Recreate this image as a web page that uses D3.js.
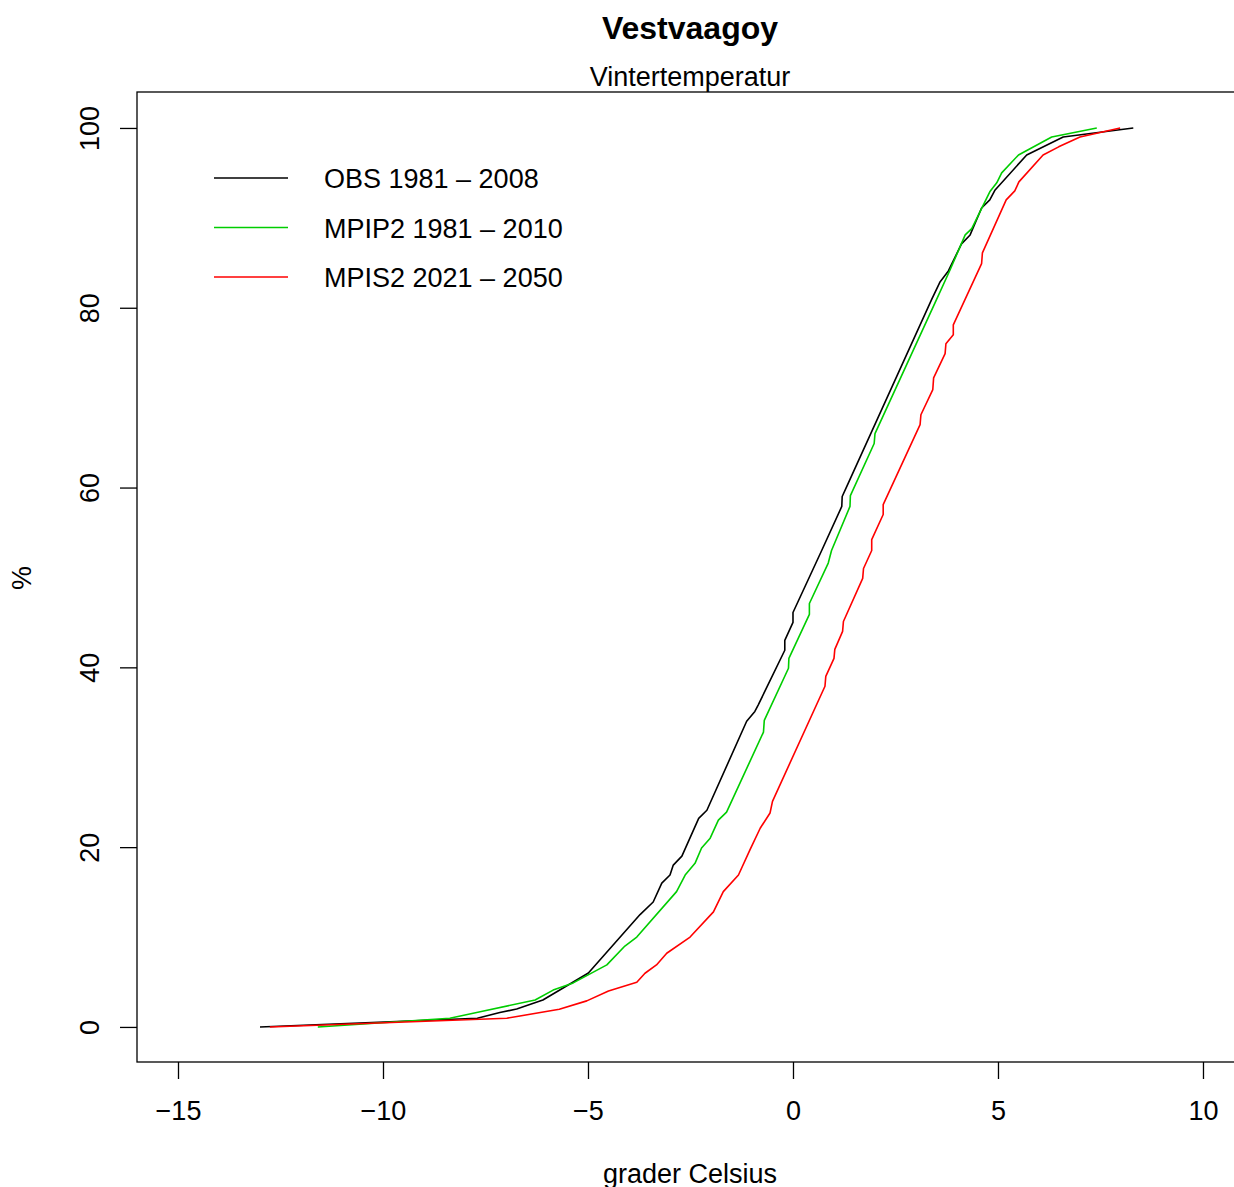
<!DOCTYPE html>
<html>
<head>
<meta charset="utf-8">
<script src="https://cdn.jsdelivr.net/npm/d3@7"></script>
<style>
  body { margin: 0; background: #fff; }
  text { font-family: "Liberation Sans", Arial, Helvetica, sans-serif; }
</style>
</head>
<body>
<div id="chart"></div>
<script>
// valeurs : temperature (grader Celsius) et % cumule
var obsTemp = [-13.0, -7.7, -7.15, -6.74, -6.1, -4.99, -3.73, -3.41, -3.2, -3.0, -2.92, -2.71, -2.3, -2.1,
  -1.13, -0.93, -0.85, -0.2, -0.2, 0.0, 0.0, 0.7, 1.19, 1.2, 1.31, 3.38, 3.59, 3.79, 4.11, 4.32, 4.6,
  4.8, 4.93, 5.7, 6.59, 8.3];
var obsPct = [0, 0.97, 1.6, 2.0, 3.0, 6.0, 12.5, 13.9, 16.0, 16.9, 18.0, 19.0, 23.2, 24.1,
  34.0, 35.1, 35.8, 41.9, 43.0, 45.0, 46.1, 53.0, 57.9, 59.0, 60.1, 80.9, 82.9, 84.1, 87.1, 88.1, 91.1,
  92.0, 93.1, 97.0, 99.0, 100];

var mpipTemp = [-11.59, -8.37, -7.63, -6.29, -5.85, -5.36, -4.54, -4.1, -3.81, -2.84, -2.63, -2.39, -2.23,
  -2.02, -1.82, -1.62, -0.72, -0.7, -0.11, -0.1, 0.4, 0.4, 0.86, 0.94, 1.39, 1.4, 1.98, 2.0, 3.5, 3.83,
  4.2, 4.36, 4.8, 4.97, 5.09, 5.5, 6.31, 7.41];
var mpipPct = [0, 0.97, 1.7, 3.0, 4.1, 4.9, 6.9, 9.0, 10.0, 15.05, 16.9, 18.2, 19.9,
  21.0, 23.0, 23.9, 32.8, 34.1, 39.9, 41.0, 45.9, 47.1, 51.6, 53.0, 57.9, 59.1, 64.9, 66.0, 80.9, 84.2,
  88.1, 88.8, 92.9, 93.9, 95.0, 97.0, 99.0, 100];

var mpisTemp = [-12.76, -6.98, -5.7, -5.03, -4.5, -3.81, -3.61, -3.33, -3.08, -2.51, -1.94, -1.7, -1.33,
  -1.05, -0.8, -0.56, -0.5, 0.78, 0.8, 1.0, 1.02, 1.21, 1.23, 1.7, 1.72, 1.92, 1.92, 2.2, 2.2, 3.1, 3.12,
  3.41, 3.43, 3.71, 3.73, 3.91, 3.91, 4.6, 4.62, 5.2, 5.41, 5.51, 6.1, 6.48, 7.0, 7.98];
var mpisPct = [0, 0.97, 1.97, 2.9, 4.0, 4.97, 5.97, 6.9, 8.2, 10.0, 12.8, 15.05, 16.9,
  19.7, 22.1, 23.8, 25.1, 37.9, 39.0, 41.0, 42.0, 44.0, 45.1, 49.9, 51.0, 53.0, 54.2, 57.0, 58.1, 67.0, 68.1,
  70.9, 72.2, 74.9, 76.0, 77.0, 78.1, 84.9, 86.1, 92.0, 93.0, 94.0, 97.0, 97.9, 99.0, 100];

var seriesNames = ["OBS 1981 \u2013 2008", "MPIP2 1981 \u2013 2010", "MPIS2 2021 \u2013 2050"];
var seriesColors = ["#000000", "#00CD00", "#FF0000"];
var xTicks = [-15, -10, -5, 0, 5, 10];
var yTicks = [0, 20, 40, 60, 80, 100];

var W = 1234, H = 1187;
var pLeft = 137, pRight = 1243, pTop = 92, pBottom = 1062;

var svg = d3.select("#chart").append("svg")
  .attr("width", W)
  .attr("height", H);

var x = d3.scaleLinear().domain([-16, 10.976]).range([pLeft, pRight]);
var y = d3.scaleLinear().domain([-3.9, 104]).range([pBottom, pTop]);

// cadre
svg.append("rect")
  .attr("x", pLeft).attr("y", pTop)
  .attr("width", pRight - pLeft).attr("height", pBottom - pTop)
  .attr("fill", "none").attr("stroke", "#000").attr("stroke-width", 1.3);

// axe x
svg.append("g")
  .attr("transform", `translate(0,${pBottom})`)
  .call(d3.axisBottom(x).tickValues(xTicks).tickSize(17).tickPadding(22)
    .tickFormat(d => d < 0 ? "\u2212" + Math.abs(d) : d))
  .call(g => g.select(".domain").remove())
  .call(g => g.selectAll("line").attr("stroke-width", 1.3))
  .call(g => g.selectAll("text").attr("font-size", 27).attr("fill", "#000"));

// axe y
svg.append("g")
  .attr("transform", `translate(${pLeft},0)`)
  .call(d3.axisLeft(y).tickValues(yTicks).tickSize(17).tickPadding(0).tickFormat(d => d))
  .call(g => g.select(".domain").remove())
  .call(g => g.selectAll("line").attr("stroke-width", 1.3))
  .call(g => g.selectAll("text")
    .attr("font-size", 27).attr("fill", "#000")
    .attr("text-anchor", "middle")
    .attr("x", 0).attr("dy", 0)
    .attr("transform", "translate(-38,0) rotate(-90)"));

// courbes
var line = d3.line().x(d => x(d[0])).y(d => y(d[1]));
var series = [
  d3.zip(obsTemp, obsPct),
  d3.zip(mpipTemp, mpipPct),
  d3.zip(mpisTemp, mpisPct)
];

svg.append("g")
  .selectAll("path")
  .data(series)
  .enter()
  .append("path")
    .attr("d", line)
    .attr("fill", "none")
    .attr("stroke", (d, i) => seriesColors[i])
    .attr("stroke-width", 1.6)
    .attr("stroke-linejoin", "round");

// legende
var leg = svg.append("g")
  .selectAll("g")
  .data(seriesNames)
  .enter()
  .append("g")
    .attr("transform", (d, i) => `translate(214,${178 + i * 49.5})`);
leg.append("line")
  .attr("x1", 0).attr("x2", 74)
  .attr("stroke", (d, i) => seriesColors[i])
  .attr("stroke-width", 1.6);
leg.append("text")
  .attr("x", 110).attr("y", 10)
  .attr("font-size", 27)
  .text(d => d);

// titres
svg.append("text")
  .attr("x", 690).attr("y", 39)
  .attr("text-anchor", "middle")
  .attr("font-size", 32).attr("font-weight", "bold")
  .text("Vestvaagoy");
svg.append("text")
  .attr("x", 690).attr("y", 86)
  .attr("text-anchor", "middle")
  .attr("font-size", 27)
  .text("Vintertemperatur");
svg.append("text")
  .attr("x", 690).attr("y", 1183)
  .attr("text-anchor", "middle")
  .attr("font-size", 27)
  .text("grader Celsius");
svg.append("text")
  .attr("transform", "translate(31,578) rotate(-90)")
  .attr("text-anchor", "middle")
  .attr("font-size", 27)
  .text("%");
</script>
</body>
</html>
